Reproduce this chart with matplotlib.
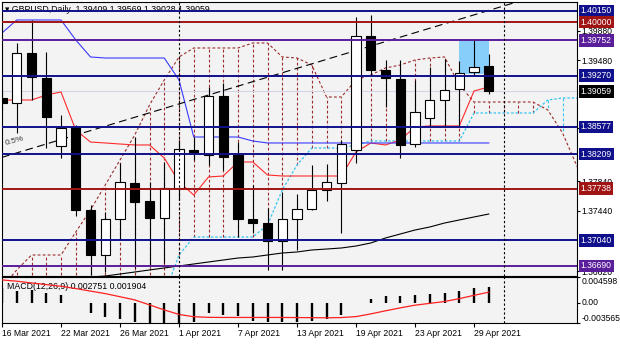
import numpy as np
import matplotlib.pyplot as plt
from matplotlib.patches import Rectangle

plt.rcParams['font.family'] = ['Liberation Sans', 'DejaVu Sans']

# --- daily bars, 16 Mar 2021 .. 30 Apr 2021 ---
dates = ['16 Mar 2021', '22 Mar 2021', '26 Mar 2021', '1 Apr 2021', '7 Apr 2021',
         '13 Apr 2021', '19 Apr 2021', '23 Apr 2021', '29 Apr 2021']
date_bars = [0, 4, 8, 12, 16, 20, 24, 28, 32]

opens = [1.38969, 1.38902, 1.39580, 1.39241, 1.38318, 1.38576, 1.37450, 1.36839, 1.37328, 1.37816,
         1.37572, 1.37341, 1.37748, 1.38264, 1.38196, 1.38997, 1.38196, 1.37328, 1.37273, 1.37029,
         1.37328, 1.37463, 1.37721, 1.37816, 1.38264, 1.39811, 1.39349, 1.39227, 1.38345, 1.38698,
         1.38942, 1.39092, 1.39322, 1.39409]
highs = [1.39078, 1.39716, 1.40028, 1.39594, 1.38739, 1.38603, 1.37518, 1.37423, 1.38087, 1.38440,
         1.37830, 1.38101, 1.38400, 1.38440, 1.39119, 1.39173, 1.38372, 1.37789, 1.37477, 1.37694,
         1.37667, 1.38060, 1.38074, 1.38400, 1.40069, 1.40096, 1.39485, 1.39485, 1.39214, 1.39390,
         1.39499, 1.39472, 1.39757, 1.39569]
lows = [1.38807, 1.38495, 1.38942, 1.38291, 1.38155, 1.37368, 1.36568, 1.36608, 1.37043, 1.36663,
        1.36676, 1.36731, 1.37585, 1.38128, 1.38060, 1.37993, 1.37083, 1.37138, 1.36636, 1.36636,
        1.36907, 1.37450, 1.37572, 1.37138, 1.38087, 1.39282, 1.38847, 1.38155, 1.38305, 1.38576,
        1.38576, 1.38576, 1.39282, 1.39028]
closes = [1.38902, 1.39580, 1.39254, 1.38712, 1.38562, 1.37450, 1.36839, 1.37328, 1.37830, 1.37558,
          1.37341, 1.37748, 1.38277, 1.38237, 1.38997, 1.38169, 1.37328, 1.37273, 1.37029, 1.37328,
          1.37463, 1.37721, 1.37830, 1.38345, 1.39811, 1.39349, 1.39241, 1.38332, 1.38780, 1.38942,
          1.39078, 1.39309, 1.39390, 1.39059]

# Ichimoku
tenkan = [1.38942, 1.38942, 1.38942, 1.39010, 1.39051, 1.38535, 1.38372, 1.38359, 1.38345, 1.38332,
          1.38332, 1.38155, 1.37830, 1.37653, 1.37898, 1.37911, 1.38101, 1.38101, 1.37925, 1.37911,
          1.37911, 1.37911, 1.37911, 1.37911, 1.38237, 1.38359, 1.38332, 1.38400, 1.38576, 1.38590,
          1.38590, 1.38590, 1.39064, 1.39119]
kijun = [1.39852, 1.40028, 1.40028, 1.40028, 1.40028, 1.39757, 1.39526, 1.39512, 1.39512, 1.39512,
         1.39512, 1.39512, 1.39214, 1.38440, 1.38440, 1.38440, 1.38440, 1.38386, 1.38359, 1.38359,
         1.38359, 1.38359, 1.38359, 1.38359, 1.38359, 1.38359, 1.38359, 1.38359, 1.38359, 1.38359,
         1.38359, 1.38359, 1.38359, 1.38359]
span_b = [1.36400, 1.36636, 1.36839, 1.36839, 1.36839, 1.37151, 1.37450, 1.37789, 1.38128, 1.38467,
          1.38875, 1.39214, 1.39526, 1.39648, 1.39648, 1.39648, 1.39648, 1.39716, 1.39716, 1.39526,
          1.39512, 1.39417, 1.38983, 1.38983, 1.39214, 1.39282, 1.39377, 1.39417, 1.39485, 1.39512,
          1.39526, 1.39146, 1.38915, 1.38915, 1.38915, 1.38915, 1.38915, 1.38807, 1.38495, 1.38033]
span_a = [1.36300, 1.36300, 1.36300, 1.36300, 1.36300, 1.36300, 1.36300, 1.36300, 1.36300, 1.36300,
          1.36300, 1.36300, 1.36839, 1.37083, 1.37083, 1.37083, 1.37083, 1.37083, 1.37246, 1.37721,
          1.38060, 1.38291, 1.38291, 1.38291, 1.38332, 1.38386, 1.38386, 1.38386, 1.38386, 1.38386,
          1.38386, 1.38386, 1.38766, 1.38766, 1.38766, 1.38766, 1.38766, 1.38942, 1.38969, 1.38969]

# moving average (from bar 6 on)
ma_start = 6
ma = [1.36540, 1.36554, 1.36581, 1.36608, 1.36636, 1.36663, 1.36690, 1.36717, 1.36744, 1.36771,
      1.36798, 1.36812, 1.36839, 1.36866, 1.36880, 1.36907, 1.36920, 1.36934, 1.36961, 1.37002,
      1.37070, 1.37124, 1.37178, 1.37219, 1.37273, 1.37314, 1.37355, 1.37395]

# MACD(12,26,9)
macd = [0.00261, 0.00220, 0.00231, 0.00183, 0.00142, 0.00005, -0.00172, -0.00243, -0.00289, -0.00332,
        -0.003565, -0.003565, -0.003565, -0.00332, -0.00172, -0.00213, -0.00231, -0.00314, -0.00332, -0.00332,
        -0.00332, -0.00314, -0.00289, -0.00213, -0.00008, 0.00071, 0.00130, 0.00124, 0.00136, 0.00160,
        0.00183, 0.00219, 0.00270, 0.002751]
signal = [0.00408, 0.00385, 0.00355, 0.00325, 0.00295, 0.00255, 0.00210, 0.00165, 0.00110, 0.00053,
          -0.00035, -0.00124, -0.00205, -0.00245, -0.00256, -0.00258, -0.00258, -0.00258, -0.00258, -0.00258,
          -0.00260, -0.00262, -0.00264, -0.00260, -0.00243, -0.00195, -0.00140, -0.00088, -0.00040, -0.00008,
          0.00025, 0.00075, 0.00135, 0.001904]

# horizontal levels
level_prices = [1.40150, 1.40000, 1.39752, 1.39270, 1.38577, 1.38209, 1.37738, 1.37040, 1.36690]
level_colors = ['#10108c', '#a01414', '#5a1e9a', '#10108c', '#10108c', '#10108c', '#a01414',
                '#10108c', '#5a1e9a']
price_ticks = [1.39880, 1.39480, 1.38560, 1.37840, 1.37440, 1.36620]
bid = 1.39059

# trendline anchors and highlighted zone
trend_p1 = (0, 1.38164)
trend_p2 = (34, 1.40218)
zone = (31, 33, 1.39295, 1.39775)
separators = [12, 34]

bg = '#f3f3f3'
fig = plt.figure(figsize=(6.2, 3.44), dpi=100)
ax = fig.add_axes([2 / 620, 1 - 276 / 344, 575 / 620, 274 / 344], facecolor=bg)
ax2 = fig.add_axes([2 / 620, 1 - 323 / 344, 575 / 620, 46 / 344], facecolor=bg)

x = np.arange(len(opens))
xs = np.arange(len(span_b))

# cloud hatching
for i in xs:
    col = '#9b2a2a' if span_b[i] >= span_a[i] else '#33c4f2'
    ax.vlines(i, span_a[i], span_b[i], color=col, lw=0.8, ls=(0, (2.5, 2)), zorder=1)
ax.plot(xs, span_b, color='#9b2a2a', lw=0.8, ls=(0, (2.5, 2)), zorder=1)
ax.plot(xs, span_a, color='#33c4f2', lw=0.9, ls=(0, (2, 1.5)), zorder=1)

# zone box
ax.add_patch(Rectangle((zone[0], zone[2]), zone[1] - zone[0], zone[3] - zone[2],
                       facecolor='#87cefa', edgecolor='none', zorder=1.5))

# lines
ax.plot(x, tenkan, color='#ff2a2a', lw=0.8, zorder=2)
ax.plot(x, kijun, color='#3a3aff', lw=0.8, zorder=2)
ax.plot(np.arange(ma_start, ma_start + len(ma)), ma, color='black', lw=0.8, zorder=2)
ax.axline(trend_p1, trend_p2, color='black', lw=0.8, ls=(0, (7, 4)), zorder=2)
ax.text(0.15, 1.3833, '0.5%', fontsize=6, rotation=15, color='#333333', zorder=2)
ax.axhline(bid, color='#d4d4e8', lw=0.8, zorder=1.2)

# candles
w = 0.62
for i in x:
    o, h, l, c = opens[i], highs[i], lows[i], closes[i]
    ax.vlines(i, l, h, color='black', lw=0.8, zorder=3)
    body = max(abs(c - o), 0.00012)
    ax.add_patch(Rectangle((i - w / 2, min(o, c)), w, body,
                           facecolor='white' if c >= o else 'black',
                           edgecolor='black', lw=0.8, zorder=3.2))

# levels with boxed labels
for p, col in zip(level_prices, level_colors):
    ax.axhline(p, color=col, lw=1.4, zorder=4)
    ax.annotate(f'{p:.5f}', xy=(1, p), xycoords=('axes fraction', 'data'),
                xytext=(2.6, 0), textcoords='offset points', ha='left', va='center',
                fontsize=6.2, color='white', annotation_clip=False, zorder=6,
                bbox=dict(boxstyle='square,pad=0.22', fc=col, ec='none'))
ax.annotate(f'{bid:.5f}', xy=(1, bid), xycoords=('axes fraction', 'data'),
            xytext=(2.6, 0), textcoords='offset points', ha='left', va='center',
            fontsize=6.2, color='white', annotation_clip=False, zorder=6,
            bbox=dict(boxstyle='square,pad=0.22', fc='black', ec='none'))

ax.text(0.005, 0.972, '\u25be GBPUSD,Daily  1.39409 1.39569 1.39028 1.39059',
        transform=ax.transAxes, fontsize=6.3, va='center', ha='left', zorder=1)

ax.set_xlim(0, 38.98)
ax.set_ylim(1.36554, 1.40272)
ax.yaxis.tick_right()
ax.set_yticks(price_ticks, [f'{v:.5f}' for v in price_ticks])
ax.tick_params(axis='y', length=2, pad=1.5, labelsize=6.2)
ax.tick_params(axis='x', bottom=False, labelbottom=False)

# MACD panel
ax2.vlines(x, 0, macd, color='black', lw=1.7, zorder=2)
ax2.plot(x, signal, color='#ff2020', lw=0.9, zorder=3)
ax2.text(0.009, 0.8, 'MACD(12,26,9) 0.002751 0.001904', transform=ax2.transAxes,
         fontsize=6.3, va='center', ha='left', zorder=1)
ax2.set_xlim(0, 38.98)
ax2.set_ylim(-0.003565, 0.004598)
ax2.yaxis.tick_right()
ax2.set_yticks([0.004598, 0.0, -0.003565], ['0.004598', '0.00', '-0.003565'])
for lab, va in zip(ax2.get_yticklabels(), ['top', 'center', 'bottom']):
    lab.set_va(va)
ax2.tick_params(axis='y', length=2, pad=1.5, labelsize=6.2)
ax2.set_xticks(date_bars)
ax2.set_xticklabels(dates, ha='left')
ax2.tick_params(axis='x', length=3, pad=1.5, labelsize=6.2)

for a in (ax, ax2):
    for s in separators:
        a.axvline(s, color='black', lw=0.8, ls=(0, (2, 2)), zorder=5)
    for sp in a.spines.values():
        sp.set_linewidth(0.8)
        sp.set_color('black')

fig.savefig('out.png', dpi=100, facecolor='white')
